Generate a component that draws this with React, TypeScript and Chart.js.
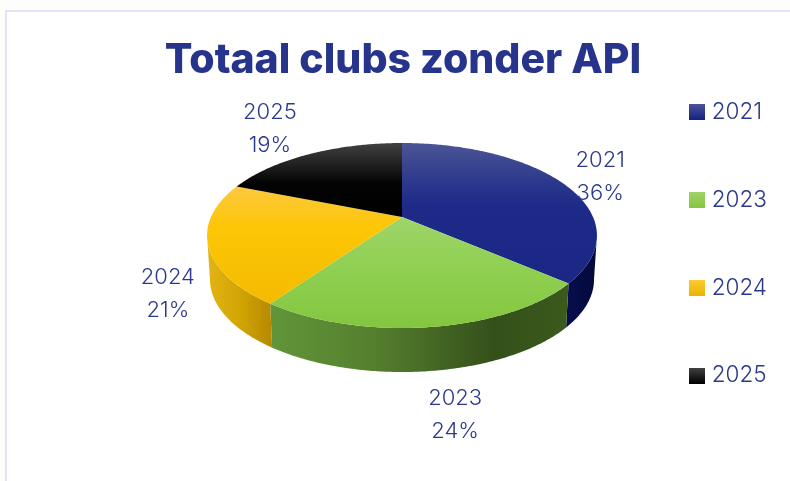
import React, { useEffect, useRef } from "react";
import { Chart, registerables } from "chart.js";

Chart.register(...registerables);

const titleText = "Totaal clubs zonder API";
const categories = ["2021", "2023", "2024", "2025"];
const shares = [36.3, 23.5, 21.2, 19];

const INK = "#2b388c";
const TITLE_INK = "#27348b";
const FONT = "Inter, 'Open Sans', sans-serif";

const topStops: [number, string][][] = [
  [[0, "#4b5596"], [0.3, "#2a368c"], [0.45, "#1d2a88"], [1, "#1b2785"]],
  [[0, "#9fd46a"], [0.45, "#8fd052"], [1, "#84c63f"]],
  [[0, "#fcc93e"], [0.35, "#fdc606"], [1, "#f4bb00"]],
  [[0, "#414141"], [0.55, "#030303"], [1, "#000000"]],
];
const wallStops: [number, string][][] = [
  [[0, "#060d4c"], [1, "#040a3a"]],
  [[0, "#62953a"], [0.35, "#557f2e"], [0.75, "#34501a"], [1, "#3b5a1c"]],
  [[0, "#e2b515"], [0.5, "#d3a605"], [1, "#b88a00"]],
  [[0, "#000000"], [1, "#000000"]],
];
const legendStops = [
  ["#4a5497", "#141f82"],
  ["#9fd46a", "#84c63f"],
  ["#fdcb33", "#ecb400"],
  ["#444444", "#000000"],
];
const labelOffsets = [
  [38, -6],
  [24, 88],
  [-40, 50],
  [-40, -25],
];

// perspective of the disc: fitted to the picture
const view = { cx: 402, apex: 217, spreadY: 45.4, spreadX: 191, tilt: -0.2, depth: 44, baseScale: 0.985 };

function project(a: number, r = 1) {
  const u = Math.cos(a) * r;
  const v = Math.sin(a) * r;
  const w = 1 + view.tilt * v;
  return { x: view.cx + (view.spreadX * u) / w, y: (view.spreadY * v + view.apex) / w };
}

function rimPoints(start: number, end: number) {
  const n = Math.max(2, Math.ceil((end - start) * 90));
  const pts = [];
  for (let i = 0; i <= n; i++) pts.push(project(start + ((end - start) * i) / n));
  return pts;
}

function stopsGradient(ctx: CanvasRenderingContext2D, x0: number, y0: number, x1: number, y1: number, stops: [number, string][]) {
  const g = ctx.createLinearGradient(x0, y0, x1, y1);
  stops.forEach(([p, c]) => g.addColorStop(p, c));
  return g;
}

const disc3d = {
  id: "disc3d",
  beforeDatasetDraw(chart: any) {
    const ctx: CanvasRenderingContext2D = chart.ctx;
    const arcs = chart.getDatasetMeta(0).data;
    const frontStart = Math.asin(-view.tilt);
    const frontEnd = Math.PI - frontStart;
    ctx.save();
    arcs.forEach((arc: any, i: number) => {
      const { startAngle, endAngle } = arc.getProps(["startAngle", "endAngle"], true);
      const candidates = [0, Math.PI * 2, -Math.PI * 2];
      candidates.forEach((shift) => {
        const s = Math.max(startAngle + shift, frontStart);
        const e = Math.min(endAngle + shift, frontEnd);
        if (e <= s) return;
        const pts = rimPoints(s, e);
        const xs = pts.map((p) => p.x);
        ctx.beginPath();
        pts.forEach((p, k) => (k ? ctx.lineTo(p.x, p.y) : ctx.moveTo(p.x, p.y)));
        [...pts].reverse().forEach((p) => ctx.lineTo(view.cx + (p.x - view.cx) * view.baseScale, p.y + view.depth));
        ctx.closePath();
        ctx.fillStyle = stopsGradient(ctx, Math.min(...xs), 0, Math.max(...xs), 0, wallStops[i]);
        ctx.fill();
      });
    });
    arcs.forEach((arc: any, i: number) => {
      const { startAngle, endAngle } = arc.getProps(["startAngle", "endAngle"], true);
      const pts = rimPoints(startAngle, endAngle);
      const ys = pts.map((p) => p.y).concat(view.apex);
      ctx.beginPath();
      ctx.moveTo(view.cx, view.apex);
      pts.forEach((p) => ctx.lineTo(p.x, p.y));
      ctx.closePath();
      ctx.fillStyle = stopsGradient(ctx, 0, Math.min(...ys), 0, Math.max(...ys), topStops[i]);
      ctx.fill();
    });
    ctx.restore();
    return false;
  },
  afterDatasetsDraw(chart: any) {
    const ctx: CanvasRenderingContext2D = chart.ctx;
    const arcs = chart.getDatasetMeta(0).data;
    const total = shares.reduce((a, b) => a + b, 0);
    ctx.save();
    ctx.font = `350 22px ${FONT}`;
    ctx.fillStyle = INK;
    ctx.textAlign = "center";
    ctx.textBaseline = "middle";
    arcs.forEach((arc: any, i: number) => {
      const { startAngle, endAngle } = arc.getProps(["startAngle", "endAngle"], true);
      const p = project((startAngle + endAngle) / 2);
      const x = p.x + labelOffsets[i][0];
      const y = p.y + labelOffsets[i][1];
      ctx.fillText(categories[i], x, y - 16.5);
      ctx.fillText(`${Math.round((shares[i] / total) * 100)}%`, x, y + 16.5);
    });
    ctx.restore();
  },
};

function legendSwatch(i: number) {
  const c = document.createElement("canvas");
  c.width = 16;
  c.height = 16;
  const g = c.getContext("2d")!;
  const grad = g.createLinearGradient(0, 0, 0, 16);
  grad.addColorStop(0, legendStops[i][0]);
  grad.addColorStop(1, legendStops[i][1]);
  g.fillStyle = grad;
  g.fillRect(0, 0, 16, 16);
  return c;
}

export default function App() {
  const ref = useRef<HTMLCanvasElement>(null);
  useEffect(() => {
    const chart = new Chart(ref.current!, {
      type: "pie",
      data: {
        labels: categories,
        datasets: [{ data: shares, backgroundColor: legendStops.map((s) => s[1]), borderWidth: 0 }],
      },
      plugins: [disc3d],
      options: {
        animation: false,
        responsive: false,
        layout: { padding: { top: 36, right: 13, bottom: 10, left: 29 } },
        plugins: {
          tooltip: { enabled: false },
          title: {
            display: true,
            text: titleText,
            color: TITLE_INK,
            font: { family: FONT, size: 41, weight: "800" },
            padding: { top: 0, bottom: -35 },
          },
          legend: {
            display: true,
            position: "right",
            align: "start",
            labels: {
              usePointStyle: true,
              boxWidth: 6,
              boxHeight: 16,
              padding: 65.2,
              color: INK,
              font: { family: FONT, size: 22.5, weight: "350" },
              generateLabels: () =>
                categories.map((text, i) => ({
                  text,
                  pointStyle: legendSwatch(i),
                  fontColor: INK,
                  index: i,
                  datasetIndex: 0,
                  lineWidth: 0,
                  strokeStyle: "transparent",
                  fillStyle: legendStops[i][1],
                })) as any,
            },
          },
        },
      },
    });
    return () => chart.destroy();
  }, []);
  return (
    <div style={{ position: "fixed", left: 0, top: 0, width: 790, height: 481, background: "#fdfdfb", overflow: "hidden" }}>
      <div
        style={{
          position: "absolute",
          left: 5,
          top: 10,
          width: 790,
          height: 480,
          background: "#ffffff",
          borderLeft: "2px solid #e0e4fa",
          borderTop: "2px solid #e0e4fa",
        }}
      />
      <canvas ref={ref} width={790} height={481} style={{ position: "absolute", left: 0, top: 0, display: "block" }} />
    </div>
  );
}
